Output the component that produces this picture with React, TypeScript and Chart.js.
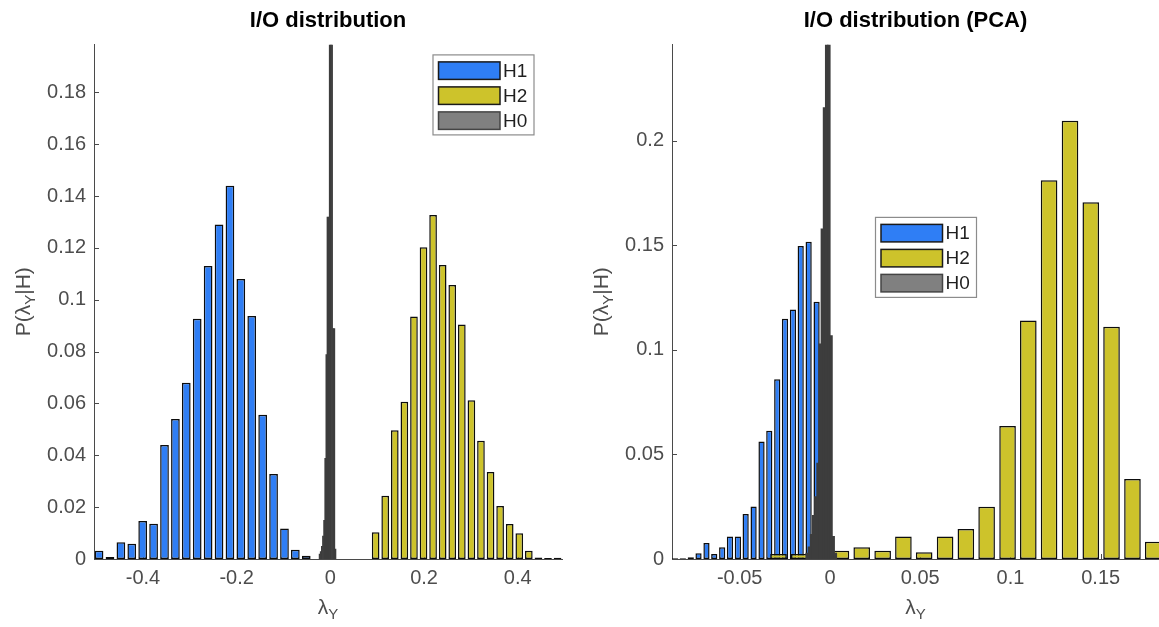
import React, { useEffect, useRef } from "react";
import { Chart, registerables } from "chart.js";

Chart.register(...registerables);

const FONT_FAMILY = '"Liberation Sans", Arial, Helvetica, sans-serif';
const TICK_COLOR = "#4d4d4d";
const AXIS_COLOR = "#4a4a4a";
const TEXT_COLOR = "#1f1f1f";

// ---------- shared series info ----------
const seriesNames = ["H1", "H2", "H0"];
const seriesFill = ["#2f7ef5", "#cdc32b", "#3d3d3d"];
const seriesLegendFill = ["#2f7ef5", "#cdc32b", "#808080"];
const seriesLegendEdge = ["#1a1a1a", "#1a1a1a", "#444444"];

const xLabelParts: [string, boolean][] = [["λ", false], ["Y", true]];
const yLabelParts: [string, boolean][] = [["P(λ", false], ["Y", true], ["|H)", false]];

// ---------- left panel data ----------
const leftTitle = "I/O distribution";
const leftXLimits = [-0.5045, 0.4945];
const leftYLimits = [0, 0.1985];
const leftXTickStep = 0.2;
const leftYTickStep = 0.02;

const leftH1Bins = [-0.4937, -0.4704, -0.4471, -0.4239, -0.4006, -0.3773, -0.354, -0.3307, -0.3075, -0.2842, -0.2609, -0.2376, -0.2143, -0.1911, -0.1678, -0.1445, -0.1212, -0.0979, -0.0747, -0.0514];
const leftH1Prob = [0.0032, 0.0008, 0.0065, 0.0059, 0.0147, 0.0136, 0.044, 0.054, 0.068, 0.0927, 0.113, 0.129, 0.144, 0.108, 0.0937, 0.0556, 0.0328, 0.0118, 0.0036, 0.0013];

const leftH2Bins = [0.0967, 0.1171, 0.1376, 0.158, 0.1785, 0.1989, 0.2193, 0.2398, 0.2602, 0.2807, 0.3011, 0.3215, 0.342, 0.3624, 0.3829, 0.4033, 0.4237, 0.4442, 0.4646, 0.4851];
const leftH2Prob = [0.0103, 0.0244, 0.0497, 0.0607, 0.0935, 0.1203, 0.1327, 0.1134, 0.1057, 0.0905, 0.0612, 0.0456, 0.0336, 0.0204, 0.0135, 0.0099, 0.0032, 0.0006, 0.0004, 0.0005];

const leftH0Bins = [-0.0228, -0.0204, -0.018, -0.0156, -0.0132, -0.0108, -0.0084, -0.006, -0.0036, -0.0012, 0.0012, 0.0036, 0.006, 0.0084, 0.0108];
const leftH0Prob = [0.002, 0.003, 0.005, 0.009, 0.015, 0.039, 0.079, 0.132, 0.132, 0.1985, 0.1985, 0.1985, 0.089, 0.089, 0.004];

// ---------- right panel data ----------
const rightTitle = "I/O distribution (PCA)";
const rightXLimits = [-0.0875, 0.1823];
const rightYLimits = [0, 0.246];
const rightXTickStep = 0.05;
const rightYTickStep = 0.05;

const rightH1Bins = [-0.0859, -0.0815, -0.0771, -0.0728, -0.0684, -0.0641, -0.0597, -0.0554, -0.051, -0.0467, -0.0423, -0.0379, -0.0336, -0.0292, -0.0249, -0.0205, -0.0162, -0.0118, -0.0074];
const rightH1Prob = [0.0003, 0.0003, 0.0008, 0.0027, 0.0076, 0.0024, 0.0056, 0.0107, 0.0107, 0.0215, 0.0251, 0.0562, 0.0613, 0.0859, 0.1149, 0.1193, 0.1496, 0.1516, 0.123];

const rightH2Bins = [-0.0285, -0.017, 0.0061, 0.0176, 0.0292, 0.0407, 0.0522, 0.0638, 0.0753, 0.0868, 0.0984, 0.1099, 0.1214, 0.133, 0.1445, 0.156, 0.1676, 0.1791];
const rightH2Prob = [0.0024, 0.0024, 0.004, 0.0056, 0.004, 0.0107, 0.0032, 0.0107, 0.0143, 0.025, 0.0636, 0.114, 0.181, 0.2095, 0.1706, 0.111, 0.0382, 0.0083];

const rightH0Bins = [-0.0126, -0.0114, -0.0102, -0.009, -0.0078, -0.0066, -0.0054, -0.0042, -0.003, -0.0018, -0.0006, 0.0006, 0.0018, 0.003];
const rightH0Prob = [0.003, 0.006, 0.012, 0.021, 0.03, 0.046, 0.103, 0.158, 0.216, 0.246, 0.246, 0.107, 0.011, 0.003];

// ---------- plugins ----------
function drawRich(ctx: CanvasRenderingContext2D, parts: [string, boolean][], cx: number, baseY: number) {
  const main = `21px ${FONT_FAMILY}`;
  const sub = `15px ${FONT_FAMILY}`;
  let total = 0;
  const widths = parts.map(([t, s]) => {
    ctx.font = s ? sub : main;
    const w = ctx.measureText(t).width;
    total += w;
    return w;
  });
  let x = cx - total / 2;
  parts.forEach(([t, s], i) => {
    ctx.font = s ? sub : main;
    ctx.fillText(t, x, baseY + (s ? 5 : 0));
    x += widths[i];
  });
}

const axisLabelPlugin = {
  id: "axisLabels",
  afterDraw(chart: any, _args: any, opts: any) {
    const { ctx, chartArea } = chart;
    ctx.save();
    ctx.fillStyle = TICK_COLOR;
    ctx.textAlign = "left";
    ctx.textBaseline = "alphabetic";
    drawRich(ctx, xLabelParts, (chartArea.left + chartArea.right) / 2, chartArea.bottom + opts.xBaseline);
    ctx.translate(chartArea.left - opts.yBaseline, (chartArea.top + chartArea.bottom) / 2);
    ctx.rotate(-Math.PI / 2);
    drawRich(ctx, yLabelParts, 0, 0);
    ctx.restore();
  },
};

const innerTicksPlugin = {
  id: "innerTicks",
  beforeDatasetsDraw(chart: any) {
    const { ctx, chartArea, scales } = chart;
    const xs = scales.x;
    const ys = scales.y;
    ctx.save();
    ctx.strokeStyle = AXIS_COLOR;
    ctx.lineWidth = 1;
    ctx.beginPath();
    xs.ticks.forEach((t: any) => {
      const px = Math.round(xs.getPixelForValue(t.value)) + 0.5;
      ctx.moveTo(px, chartArea.bottom);
      ctx.lineTo(px, chartArea.bottom - 5);
    });
    ys.ticks.forEach((t: any) => {
      const py = Math.round(ys.getPixelForValue(t.value)) + 0.5;
      ctx.moveTo(chartArea.left, py);
      ctx.lineTo(chartArea.left + 5, py);
    });
    ctx.stroke();
    ctx.restore();
  },
};

const boxLegendPlugin = {
  id: "boxLegend",
  afterDraw(chart: any, _args: any, opts: any) {
    const { ctx, chartArea } = chart;
    const w = 101;
    const h = 80;
    const x = opts.fromRight ? chartArea.right - opts.dx - w : chartArea.left + opts.dx;
    const y = chartArea.top + opts.dy;
    ctx.save();
    ctx.fillStyle = "#ffffff";
    ctx.fillRect(x, y, w, h);
    ctx.strokeStyle = "#8c8c8c";
    ctx.lineWidth = 1.2;
    ctx.strokeRect(x + 0.5, y + 0.5, w, h);
    chart.data.datasets.forEach((ds: any, i: number) => {
      const sx = x + 6;
      const sy = y + 7.5 + i * 25;
      ctx.fillStyle = ds.legendFill;
      ctx.fillRect(sx, sy, 61.5, 17.5);
      ctx.strokeStyle = ds.legendEdge;
      ctx.lineWidth = 1.5;
      ctx.strokeRect(sx, sy, 61.5, 17.5);
      ctx.fillStyle = TEXT_COLOR;
      ctx.font = `19px ${FONT_FAMILY}`;
      ctx.textAlign = "left";
      ctx.textBaseline = "middle";
      ctx.fillText(ds.label, sx + 61.5 + 3, sy + 9.5);
    });
    ctx.restore();
  },
};

// ---------- chart building ----------
const fmt = (v: any) => String(Math.round(Number(v) * 1e6) / 1e6);

function barDataset(i: number, bins: number[], probs: number[], axisId: string, pct: number, order: number) {
  const isH0 = i === 2;
  return {
    label: seriesNames[i],
    data: bins.map((b, k) => ({ x: b, y: probs[k] })),
    xAxisID: axisId,
    yAxisID: "y",
    backgroundColor: seriesFill[i],
    borderColor: isH0 ? "#333333" : "#0d0d0d",
    borderWidth: isH0 ? 0 : 1.5,
    borderSkipped: false,
    grouped: false,
    barPercentage: pct,
    categoryPercentage: 1,
    order,
    legendFill: seriesLegendFill[i],
    legendEdge: seriesLegendEdge[i],
  };
}

function xScale(limits: number[], step: number, visible: boolean) {
  const s: any = {
    type: "linear",
    axis: "x",
    position: "bottom",
    min: limits[0],
    max: limits[1],
    offset: false,
    display: visible,
    grid: { display: false, drawTicks: false },
    border: { display: true, color: AXIS_COLOR, width: 1 },
    ticks: {
      stepSize: step,
      includeBounds: false,
      autoSkip: false,
      maxRotation: 0,
      padding: 7,
      color: TICK_COLOR,
      font: { family: FONT_FAMILY, size: 20 },
      callback: fmt,
    },
  };
  if (visible) s.afterFit = (sc: any) => { sc.height = 68; };
  return s;
}

interface PanelSpec {
  title: string;
  xLimits: number[];
  yLimits: number[];
  xStep: number;
  yStep: number;
  h1: [number[], number[]];
  h2: [number[], number[]];
  h0: [number[], number[]];
  yAxisWidth: number;
  padRight: number;
  legend: { fromRight: boolean; dx: number; dy: number };
  yBaseline: number;
}

function buildChart(canvas: HTMLCanvasElement, p: PanelSpec) {
  return new Chart(canvas, {
    type: "bar",
    data: {
      datasets: [
        barDataset(0, p.h1[0], p.h1[1], "x", 0.8, 3),
        barDataset(1, p.h2[0], p.h2[1], "xH2", 0.8, 2),
        barDataset(2, p.h0[0], p.h0[1], "xH0", 1.6, 1),
      ] as any,
    },
    options: {
      responsive: false,
      maintainAspectRatio: false,
      animation: false,
      layout: { padding: { left: 0, right: p.padRight, top: 0, bottom: 0 } },
      scales: {
        x: xScale(p.xLimits, p.xStep, true),
        xH2: xScale(p.xLimits, p.xStep, false),
        xH0: xScale(p.xLimits, p.xStep, false),
        y: {
          type: "linear",
          position: "left",
          min: p.yLimits[0],
          max: p.yLimits[1],
          grid: { display: false, drawTicks: false },
          border: { display: true, color: AXIS_COLOR, width: 1 },
          ticks: {
            stepSize: p.yStep,
            includeBounds: false,
            autoSkip: false,
            padding: 8,
            color: TICK_COLOR,
            font: { family: FONT_FAMILY, size: 20 },
            callback: fmt,
          },
          afterFit: (sc: any) => { sc.width = p.yAxisWidth; },
        },
      } as any,
      plugins: {
        legend: { display: false },
        tooltip: { enabled: false },
        title: {
          display: true,
          text: p.title,
          fullSize: false,
          color: "#000000",
          font: { family: FONT_FAMILY, size: 22, weight: "bold" },
          padding: { top: 8, bottom: 10 },
        },
        boxLegend: p.legend,
        axisLabels: { xBaseline: 55, yBaseline: p.yBaseline },
      } as any,
    },
    plugins: [innerTicksPlugin, axisLabelPlugin, boxLegendPlugin],
  });
}

const leftSpec: PanelSpec = {
  title: leftTitle,
  xLimits: leftXLimits,
  yLimits: leftYLimits,
  xStep: leftXTickStep,
  yStep: leftYTickStep,
  h1: [leftH1Bins, leftH1Prob],
  h2: [leftH2Bins, leftH2Prob],
  h0: [leftH0Bins, leftH0Prob],
  yAxisWidth: 94,
  padRight: 18,
  legend: { fromRight: true, dx: 28.5, dy: 10 },
  yBaseline: 64,
};

const rightSpec: PanelSpec = {
  title: rightTitle,
  xLimits: rightXLimits,
  yLimits: rightYLimits,
  xStep: rightXTickStep,
  yStep: rightYTickStep,
  h1: [rightH1Bins, rightH1Prob],
  h2: [rightH2Bins, rightH2Prob],
  h0: [rightH0Bins, rightH0Prob],
  yAxisWidth: 92,
  padRight: 0,
  legend: { fromRight: false, dx: 203, dy: 172.5 },
  yBaseline: 64,
};

export default function App() {
  const leftRef = useRef<HTMLCanvasElement | null>(null);
  const rightRef = useRef<HTMLCanvasElement | null>(null);

  useEffect(() => {
    const charts: Chart[] = [];
    if (leftRef.current) charts.push(buildChart(leftRef.current, leftSpec));
    if (rightRef.current) charts.push(buildChart(rightRef.current, rightSpec));
    return () => charts.forEach((c) => c.destroy());
  }, []);

  return (
    <div style={{ position: "fixed", left: 0, top: 0, width: 1159, height: 627, background: "#ffffff", overflow: "hidden" }}>
      <canvas ref={leftRef} width={580} height={627} style={{ position: "absolute", left: 0, top: 0, width: 580, height: 627 }} />
      <canvas ref={rightRef} width={579} height={627} style={{ position: "absolute", left: 580, top: 0, width: 579, height: 627 }} />
    </div>
  );
}
